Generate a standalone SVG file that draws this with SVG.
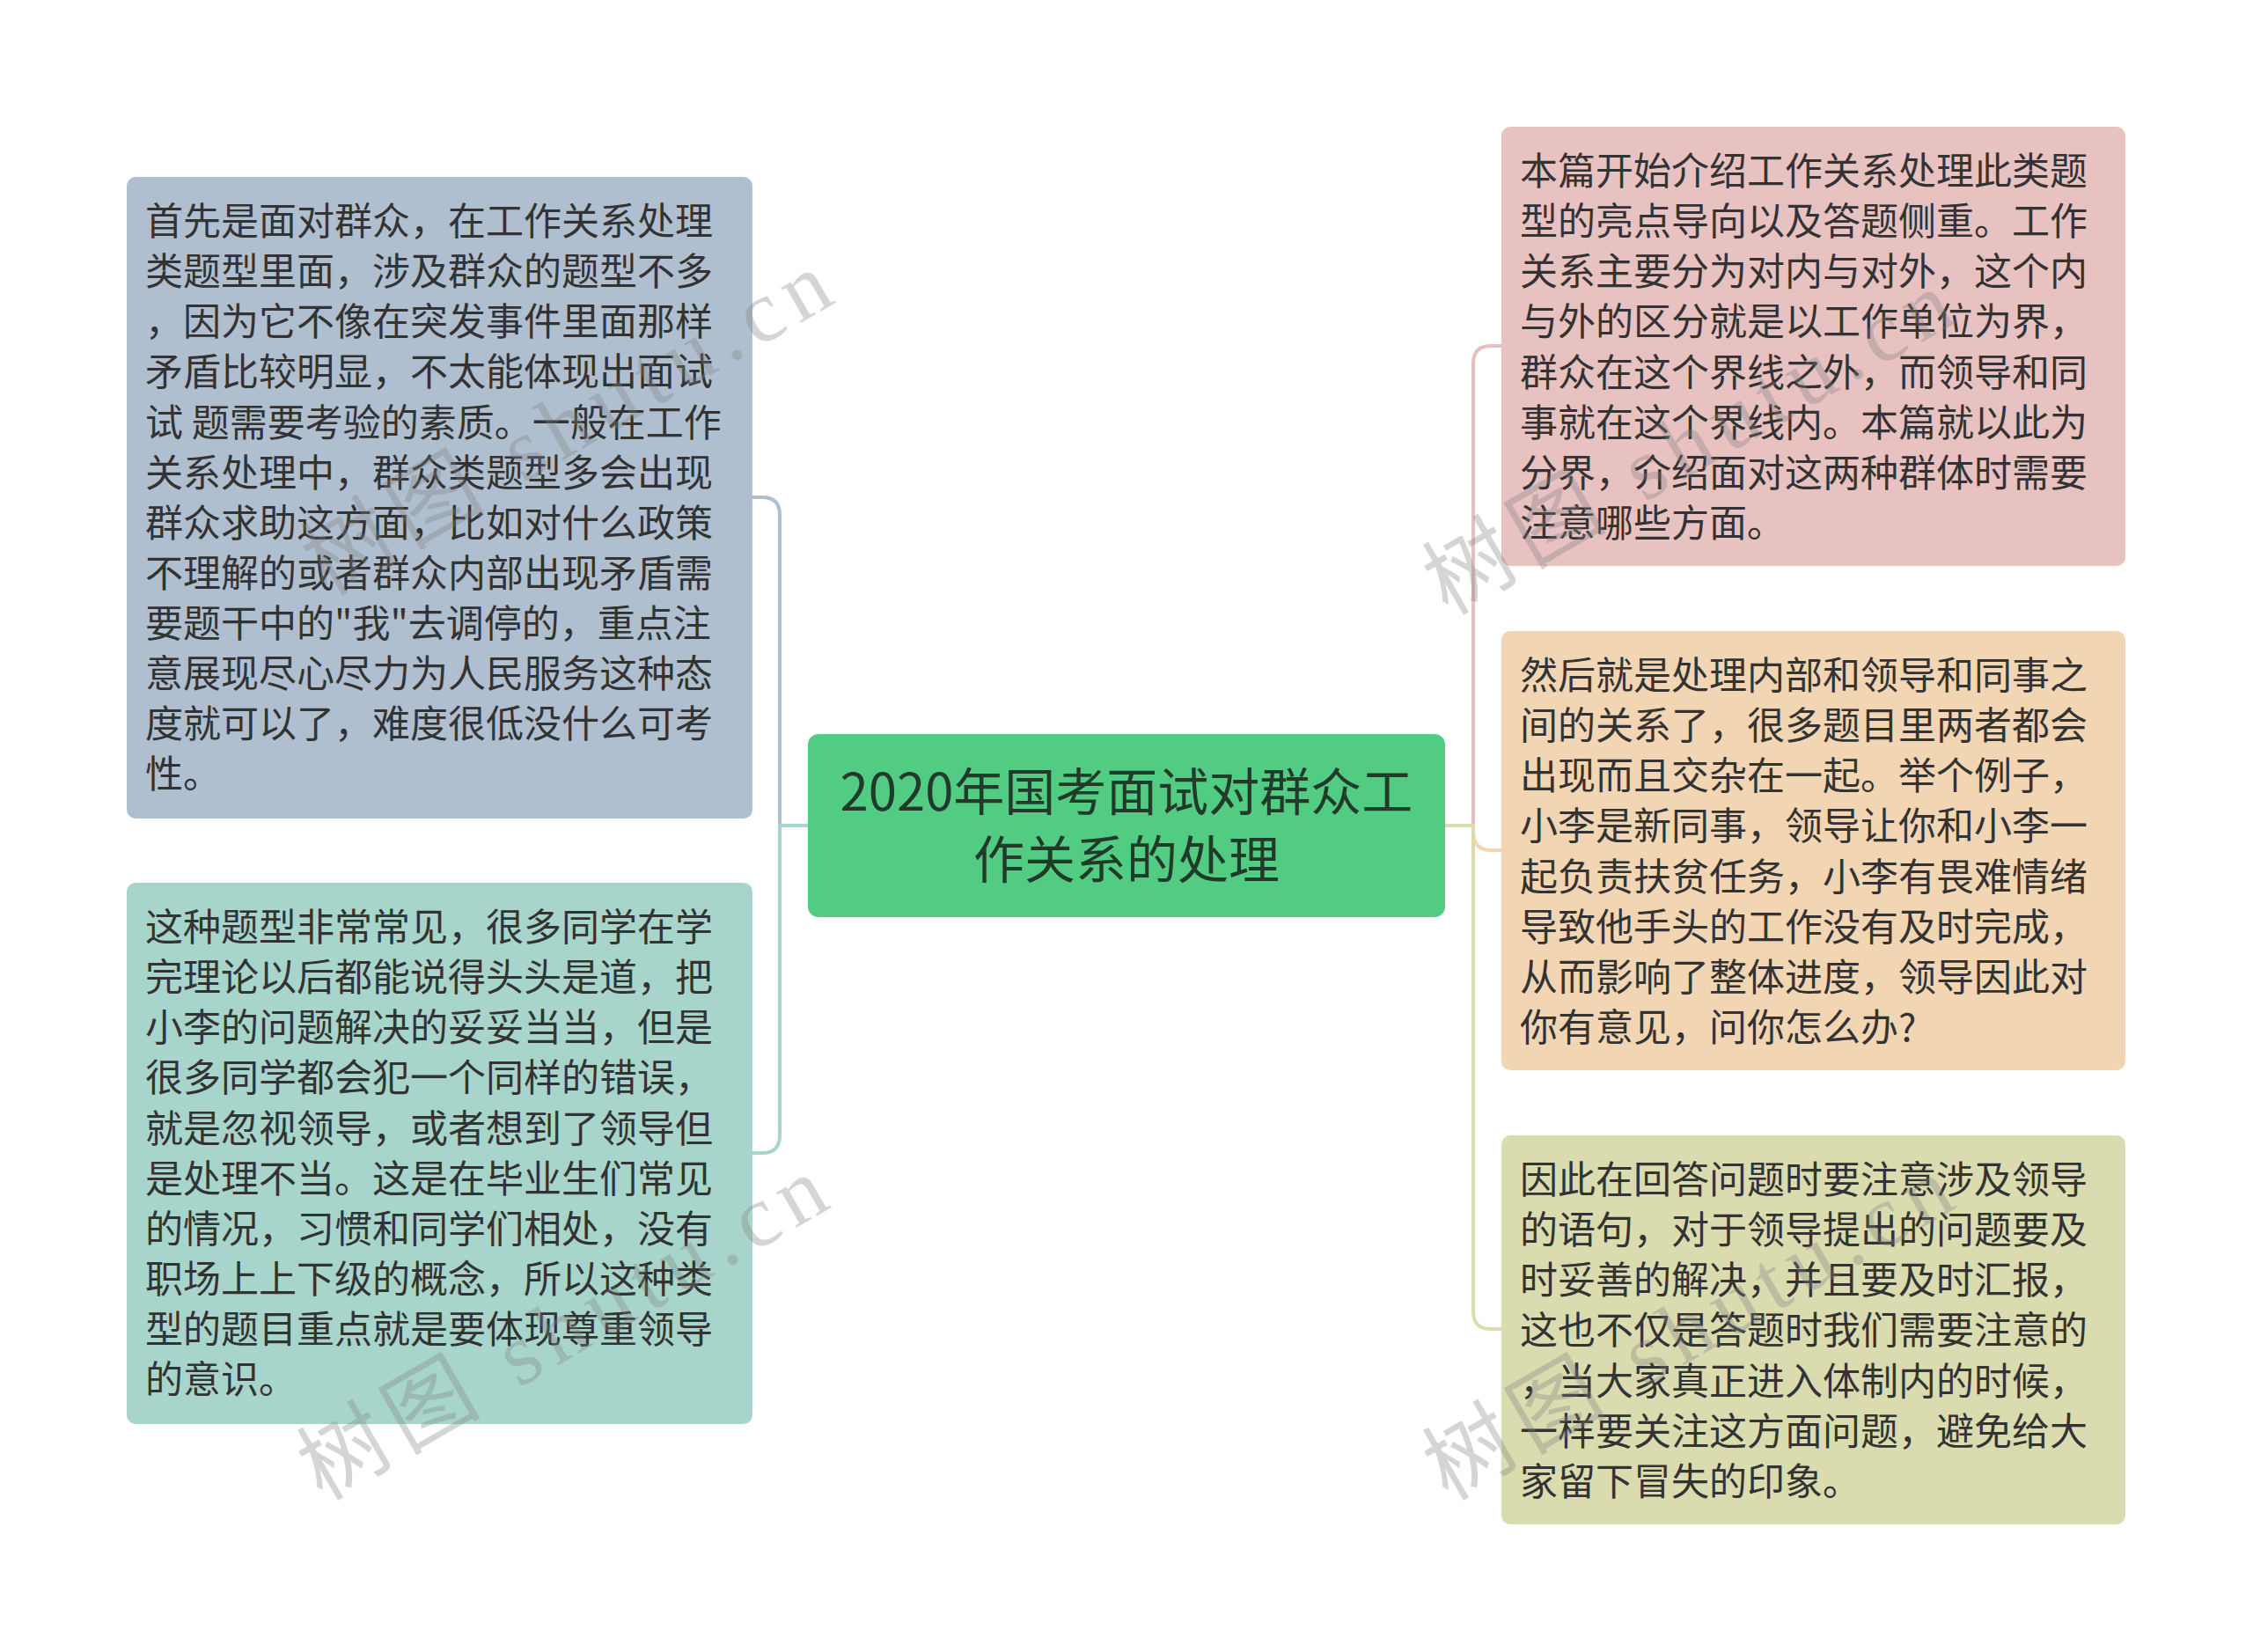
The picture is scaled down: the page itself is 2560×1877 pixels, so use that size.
<svg xmlns="http://www.w3.org/2000/svg" width="2560" height="1877" viewBox="0 0 2560 1877">
<style>
.bg{fill:#ffffff}
.node text{font-family:"Noto Sans CJK SC","Noto Sans",sans-serif;font-size:43px;fill:#333333}
.root text{font-family:"Noto Sans CJK SC","Noto Sans",sans-serif;font-size:58px;fill:#213a2a;text-anchor:middle}
.conn path{fill:none;stroke-width:4;stroke-linecap:round}
.wm text{font-family:"Liberation Serif","Noto Sans CJK SC",serif;font-size:100px;fill:#808080;fill-opacity:0.33}
</style>
<rect class="bg" x="0" y="0" width="2560" height="1877"/>

<g id="connectors" class="conn">
  <path d="M918 938 H886 V585 Q886 565 866 565 H855" stroke="#b0bfd0"/>
  <path d="M918 938 H886 V1290 Q886 1310 866 1310 H855" stroke="#a8d5cb"/>
  <path d="M1642 938 H1674 V413 Q1674 393 1694 393 H1706" stroke="#e6c0c1"/>
  <path d="M1642 938 H1674 V945 Q1674 966 1694 966 H1706" stroke="#f2d5b2"/>
  <path d="M1642 938 H1674 V1490 Q1674 1510 1694 1510 H1706" stroke="#dadcb0"/>
</g>

<g id="root" class="root">
  <rect x="918" y="834" width="724" height="208" rx="12" fill="#53cc83"/>
  <text x="1280" y="921">2020年国考面试对群众工</text>
  <text x="1280" y="998">作关系的处理</text>
</g>

<g id="node-left-1" class="node">
  <rect x="144" y="201" width="711" height="729" rx="10" fill="#b0bfd0"/>
  <text x="165" y="267">首先是面对群众，在工作关系处理</text>
  <text x="165" y="324">类题型里面，涉及群众的题型不多</text>
  <text x="165" y="381">，因为它不像在突发事件里面那样</text>
  <text x="165" y="438">矛盾比较明显，不太能体现出面试</text>
  <text x="165" y="496">试 题需要考验的素质。一般在工作</text>
  <text x="165" y="553">关系处理中，群众类题型多会出现</text>
  <text x="165" y="610">群众求助这方面，比如对什么政策</text>
  <text x="165" y="667">不理解的或者群众内部出现矛盾需</text>
  <text x="165" y="724">要题干中的"我"去调停的，重点注</text>
  <text x="165" y="781">意展现尽心尽力为人民服务这种态</text>
  <text x="165" y="838">度就可以了，难度很低没什么可考</text>
  <text x="165" y="895">性。</text>
</g>

<g id="node-left-2" class="node">
  <rect x="144" y="1003" width="711" height="615" rx="10" fill="#a8d5cb"/>
  <text x="165" y="1069">这种题型非常常见，很多同学在学</text>
  <text x="165" y="1126">完理论以后都能说得头头是道，把</text>
  <text x="165" y="1183">小李的问题解决的妥妥当当，但是</text>
  <text x="165" y="1240">很多同学都会犯一个同样的错误，</text>
  <text x="165" y="1298">就是忽视领导，或者想到了领导但</text>
  <text x="165" y="1355">是处理不当。这是在毕业生们常见</text>
  <text x="165" y="1412">的情况，习惯和同学们相处，没有</text>
  <text x="165" y="1469">职场上上下级的概念，所以这种类</text>
  <text x="165" y="1526">型的题目重点就是要体现尊重领导</text>
  <text x="165" y="1583">的意识。</text>
</g>

<g id="node-right-1" class="node">
  <rect x="1706" y="144" width="709" height="499" rx="10" fill="#e8c1c1"/>
  <text x="1727" y="210">本篇开始介绍工作关系处理此类题</text>
  <text x="1727" y="267">型的亮点导向以及答题侧重。工作</text>
  <text x="1727" y="324">关系主要分为对内与对外，这个内</text>
  <text x="1727" y="381">与外的区分就是以工作单位为界，</text>
  <text x="1727" y="439">群众在这个界线之外，而领导和同</text>
  <text x="1727" y="496">事就在这个界线内。本篇就以此为</text>
  <text x="1727" y="553">分界，介绍面对这两种群体时需要</text>
  <text x="1727" y="610">注意哪些方面。</text>
</g>

<g id="node-right-2" class="node">
  <rect x="1706" y="717" width="709" height="499" rx="10" fill="#f2d5b2"/>
  <text x="1727" y="783">然后就是处理内部和领导和同事之</text>
  <text x="1727" y="840">间的关系了，很多题目里两者都会</text>
  <text x="1727" y="897">出现而且交杂在一起。举个例子，</text>
  <text x="1727" y="954">小李是新同事，领导让你和小李一</text>
  <text x="1727" y="1012">起负责扶贫任务，小李有畏难情绪</text>
  <text x="1727" y="1069">导致他手头的工作没有及时完成，</text>
  <text x="1727" y="1126">从而影响了整体进度，领导因此对</text>
  <text x="1727" y="1183">你有意见，问你怎么办?</text>
</g>

<g id="node-right-3" class="node">
  <rect x="1706" y="1290" width="709" height="442" rx="10" fill="#dadcb0"/>
  <text x="1727" y="1356">因此在回答问题时要注意涉及领导</text>
  <text x="1727" y="1413">的语句，对于领导提出的问题要及</text>
  <text x="1727" y="1470">时妥善的解决，并且要及时汇报，</text>
  <text x="1727" y="1527">这也不仅是答题时我们需要注意的</text>
  <text x="1727" y="1585">，当大家真正进入体制内的时候，</text>
  <text x="1727" y="1642">一样要关注这方面问题，避免给大</text>
  <text x="1727" y="1699">家留下冒失的印象。</text>
</g>

<g id="watermark" class="wm">
  <text x="371" y="678" transform="rotate(-30 371 678)" textLength="670" lengthAdjust="spacing">树图 shutu.cn</text>
  <text x="366" y="1706" transform="rotate(-30 366 1706)" textLength="670" lengthAdjust="spacing">树图 shutu.cn</text>
  <text x="1645" y="700" transform="rotate(-30 1645 700)" textLength="670" lengthAdjust="spacing">树图 shutu.cn</text>
  <text x="1645" y="1706" transform="rotate(-30 1645 1706)" textLength="670" lengthAdjust="spacing">树图 shutu.cn</text>
</g>
</svg>
